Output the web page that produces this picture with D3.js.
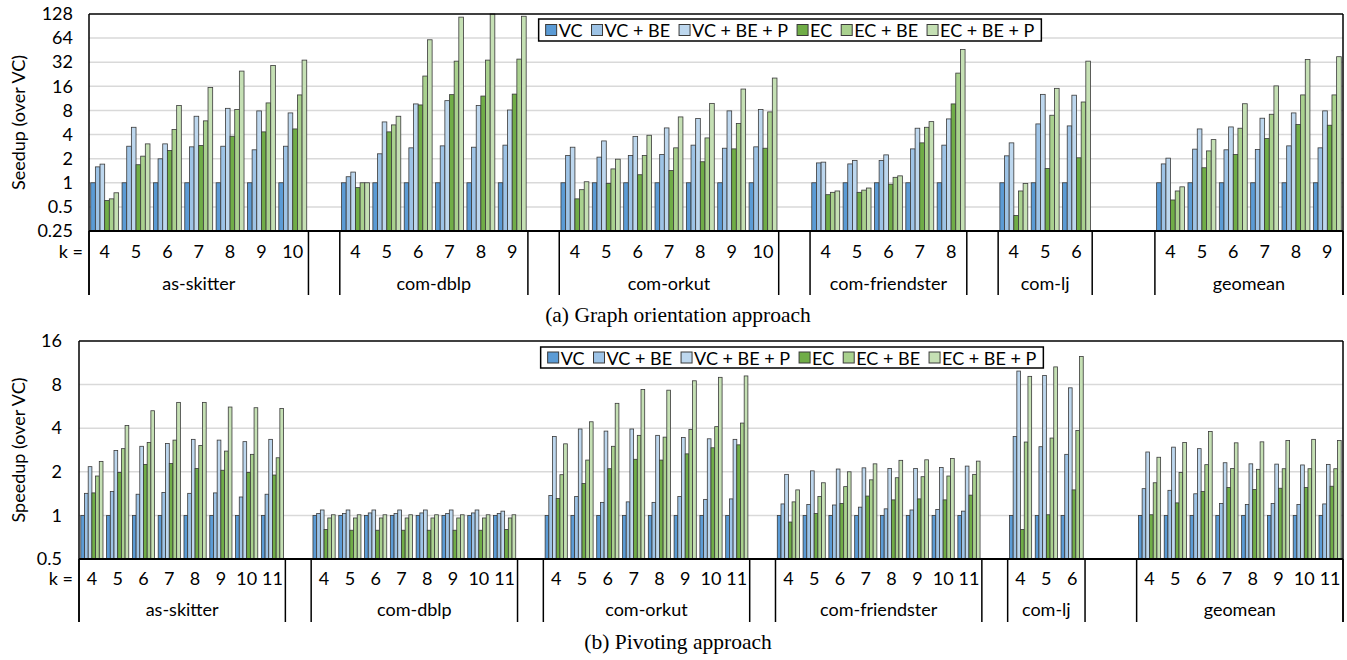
<!DOCTYPE html>
<html>
<head>
<meta charset="utf-8">
<script src="https://cdnjs.cloudflare.com/ajax/libs/d3/7.8.5/d3.min.js"></script>
<style>
  body { margin: 0; background: #fff; }
  text { font-family: Lato, "Open Sans", sans-serif; fill: #000; }
</style>
</head>
<body>
<div id="container"></div>
<script>
let w = 1347;
let h = 660;

// SERIES
let series = ["VC", "VC + BE", "VC + BE + P", "EC", "EC + BE", "EC + BE + P"];
let colors = ["#5b9bd5", "#9dc3e6", "#bdd7ee", "#70ad47", "#a9d18e", "#c5e0b4"];
let groups = ["as-skitter", "com-dblp", "com-orkut", "com-friendster", "com-lj", "geomean"];

// (a) GRAPH ORIENTATION — values in group order, one row per group
let kA = [[4,5,6,7,8,9,10], [4,5,6,7,8,9], [4,5,6,7,8,9,10], [4,5,6,7,8], [4,5,6], [4,5,6,7,8,9]];
let ticksA = [0.25, 0.5, 1, 2, 4, 8, 16, 32, 64, 128];
let aVC = [
  1,1,1,1,1,1,1,
  1,1,1,1,1,1,
  1,1,1,1,1,1,1,
  1,1,1,1,1,
  1,1,1,
  1,1,1,1,1,1];
let aVCBE = [
  1.58,2.86,1.99,2.81,2.86,2.58,2.86,
  1.19,2.30,2.73,2.89,2.78,2.95,
  2.19,2.09,2.19,2.25,2.95,2.70,2.81,
  1.77,1.72,1.90,2.65,2.95,
  2.17,5.43,5.13,
  1.72,2.63,2.58,2.60,2.89,2.73];
let aVCBEP = [
  1.71,4.93,3.06,6.77,8.5,7.89,7.45,
  1.36,5.75,9.65,10.6,9.2,8.1,
  2.78,3.33,3.78,4.84,6.33,7.9,8.2,
  1.81,1.90,2.23,4.8,6.27,
  3.15,12.7,12.4,
  2.03,4.7,4.98,6.4,7.45,7.9];
let aEC = [
  0.60,1.68,2.53,2.92,3.81,4.32,4.7,
  0.87,4.32,9.37,12.6,12.1,12.8,
  0.63,0.98,1.26,1.42,1.83,2.65,2.7,
  0.71,0.76,0.96,3.15,9.65,
  0.39,1.51,2.05,
  0.61,1.54,2.25,3.57,5.33,5.23];
let aECBE = [
  0.63,2.15,4.62,5.93,8.2,9.93,12.5,
  1.0,5.28,21.5,33,34,35,
  0.82,1.49,2.19,2.73,3.63,5.49,7.67,
  0.76,0.81,1.17,4.93,23.4,
  0.79,6.97,10.2,
  0.79,2.5,4.8,7.17,12.5,12.5];
let aECBEP = [
  0.75,3.06,9.2,15.5,24.8,29.2,34,
  1.0,6.77,61,117,135,120,
  1.03,1.97,3.92,6.64,9.8,14.8,20.3,
  0.79,0.86,1.22,5.8,46.2,
  0.98,15.1,33,
  0.89,3.46,9.7,16.2,34.7,37.5];

// (b) PIVOTING
let kB = [[4,5,6,7,8,9,10,11], [4,5,6,7,8,9,10,11], [4,5,6,7,8,9,10,11], [4,5,6,7,8,9,10,11], [4,5,6], [4,5,6,7,8,9,10,11]];
let ticksB = [0.5, 1, 2, 4, 8, 16];
let bVC = [
  1,1,1,1,1,1,1,1,
  1,1,1,1,1,1,1,1,
  1,1,1,1,1,1,1,1,
  1,1,1,1,1,1,1,1,
  1,1,1,
  1,1,1,1,1,1,1,1];
let bVCBE = [
  1.42,1.46,1.40,1.44,1.42,1.43,1.34,1.40,
  1.03,1.03,1.04,1.03,1.04,1.03,1.04,1.03,
  1.37,1.35,1.23,1.24,1.23,1.35,1.29,1.30,
  1.20,1.19,1.18,1.14,1.11,1.09,1.10,1.07,
  3.51,2.98,2.64,
  1.53,1.49,1.41,1.21,1.19,1.21,1.19,1.20];
let bVCBEP = [
  2.17,2.81,3.0,3.14,3.35,3.31,3.23,3.35,
  1.09,1.09,1.09,1.09,1.09,1.09,1.09,1.07,
  3.51,3.95,3.82,3.95,3.57,3.45,3.38,3.35,
  1.92,2.03,2.09,2.13,2.11,2.11,2.14,2.19,
  9.92,9.26,7.6,
  2.74,2.96,2.89,2.31,2.27,2.26,2.23,2.25];
let bEC = [
  1.43,1.98,2.25,2.28,2.11,2.05,1.98,1.90,
  0.80,0.79,0.79,0.79,0.79,0.79,0.79,0.80,
  1.31,1.66,2.10,2.44,2.41,2.66,2.93,3.07,
  0.90,1.03,1.21,1.36,1.28,1.30,1.28,1.38,
  0.80,1.01,1.50,
  1.01,1.22,1.46,1.56,1.51,1.54,1.56,1.59];
let bECBE = [
  1.87,2.89,3.19,3.31,3.04,2.78,2.64,2.50,
  0.96,0.96,0.96,0.96,0.96,0.96,0.96,0.96,
  1.91,2.41,3.0,3.57,3.47,3.92,4.1,4.34,
  1.24,1.35,1.58,1.76,1.82,1.85,1.87,1.92,
  3.21,3.42,3.86,
  1.68,1.98,2.24,2.11,2.08,2.1,2.1,2.1];
let bECBEP = [
  2.36,4.18,5.28,6.03,6.03,5.6,5.54,5.48,
  1.01,1.01,1.01,1.01,1.01,1.01,1.01,1.01,
  3.12,4.43,5.94,7.4,7.32,8.5,8.98,9.18,
  1.50,1.68,2.0,2.27,2.4,2.42,2.47,2.37,
  9.12,10.6,12.5,
  2.52,3.19,3.8,3.17,3.22,3.29,3.35,3.29];

// empty category slots between groups
let gapSlots = [1, 1, 1, 1, 2];

let viz = d3.select("#container").append("svg")
    .attr("width", w)
    .attr("height", h)
    .style("display", "block");

function drawPanel(p) {
  // build slots (with blank ones between groups) and bar records
  let slots = [];
  let bars = [];
  let idx = 0;
  groups.forEach(function(g, gi) {
    if (gi > 0) {
      for (let j = 0; j < gapSlots[gi - 1]; j++) slots.push("gap" + gi + "_" + j);
    }
    p.ks[gi].forEach(function(k) {
      let id = g + "|" + k;
      slots.push(id);
      p.values.forEach(function(arr, si) {
        bars.push({slot: id, s: series[si], si: si, v: arr[idx]});
      });
      idx++;
    });
  });

  let xScale = d3.scaleBand().domain(slots).range([p.left, p.right])
      .paddingInner(p.pad).paddingOuter(p.pad / 2);
  let xSeries = d3.scaleBand().domain(series).range([0, xScale.bandwidth()]);
  let yScale = d3.scaleLog().base(2).domain(p.domain).range([p.bottom, p.top]).clamp(true);
  let half = xScale.step() * p.pad / 2;

  let g = viz.append("g");

  // gridlines
  g.selectAll(".grid").data(p.ticks.slice(1, -1)).enter()
    .append("line")
      .attr("x1", p.left).attr("x2", p.right)
      .attr("y1", d => yScale(d)).attr("y2", d => yScale(d))
      .attr("stroke", "#d9d9d9")
      .attr("stroke-width", 1.5);

  // bars
  g.selectAll(".bar").data(bars).enter()
    .append("rect")
      .attr("x", d => xScale(d.slot) + xSeries(d.s))
      .attr("y", d => yScale(d.v))
      .attr("width", xSeries.bandwidth())
      .attr("height", d => p.bottom - yScale(d.v))
      .attr("fill", d => colors[d.si])
      .attr("stroke", "#3a3a3a")
      .attr("stroke-width", 0.8);

  // frame
  g.append("line").attr("x1", p.left).attr("x2", p.right).attr("y1", p.top).attr("y2", p.top)
    .attr("stroke", "#000").attr("stroke-width", 1.5);
  g.append("line").attr("x1", p.left).attr("x2", p.right).attr("y1", p.bottom).attr("y2", p.bottom)
    .attr("stroke", "#000").attr("stroke-width", 2);
  [p.left, p.right].forEach(function(x) {
    g.append("line").attr("x1", x).attr("x2", x).attr("y1", p.top).attr("y2", p.divBottom)
      .attr("stroke", "#000").attr("stroke-width", 1.5);
  });

  // group dividers, k labels, group names
  groups.forEach(function(gname, gi) {
    let ids = p.ks[gi].map(k => gname + "|" + k);
    let x0 = xScale(ids[0]) - half;
    let x1 = xScale(ids[ids.length - 1]) + xScale.bandwidth() + half;
    [x0, x1].forEach(function(x) {
      g.append("line").attr("x1", x).attr("x2", x).attr("y1", p.bottom).attr("y2", p.divBottom)
        .attr("stroke", "#000").attr("stroke-width", 1.5);
    });
    g.append("text")
      .attr("x", (x0 + x1) / 2)
      .attr("y", p.nameY)
      .attr("text-anchor", "middle")
      .attr("dominant-baseline", "central")
      .style("font-size", "18px")
      .text(gname);
    g.selectAll(".k" + gi).data(p.ks[gi]).enter()
      .append("text")
        .attr("x", k => xScale(gname + "|" + k) + xScale.bandwidth() / 2)
        .attr("y", p.kY)
        .attr("text-anchor", "middle")
        .attr("dominant-baseline", "central")
        .style("font-size", "18px")
        .text(k => k);
  });

  g.append("text")
    .attr("x", p.left - 6)
    .attr("y", p.kY)
    .attr("text-anchor", "end")
    .attr("dominant-baseline", "central")
    .style("font-size", "18px")
    .text("k =");

  // y axis labels
  let yAxis = d3.axisLeft(yScale).tickValues(p.ticks).tickFormat(d => d).tickSize(0).tickPadding(p.tickPad);
  let ax = g.append("g").attr("transform", "translate(" + p.left + ",0)").call(yAxis);
  ax.select(".domain").remove();
  ax.selectAll("text").style("font-size", "18px").style("font-family", "Lato, sans-serif").attr("fill", "#000");

  g.append("text")
    .attr("transform", "translate(" + p.titleX + "," + ((p.top + p.bottom) / 2) + ") rotate(-90)")
    .attr("text-anchor", "middle")
    .attr("dominant-baseline", "central")
    .style("font-size", "18px")
    .text(p.title);

  // legend
  let lg = g.append("g");
  let box = lg.append("rect");
  let cursor = 0;
  series.forEach(function(s, i) {
    lg.append("rect")
      .attr("x", cursor).attr("y", p.legendY + p.legendH / 2 - 5.5)
      .attr("width", 11).attr("height", 11)
      .attr("fill", colors[i]).attr("stroke", "#3a3a3a").attr("stroke-width", 1);
    let t = lg.append("text")
      .attr("x", cursor + 13)
      .attr("y", p.legendY + p.legendH / 2)
      .attr("dominant-baseline", "central")
      .style("font-size", "18px")
      .text(s);
    cursor += 13 + t.node().getComputedTextLength() + 9;
  });
  let lw = cursor - 9 + 14;
  box.attr("x", -7).attr("y", p.legendY).attr("width", lw).attr("height", p.legendH)
    .attr("fill", "#fff").attr("stroke", "#000").attr("stroke-width", 1.5);
  lg.attr("transform", "translate(" + (p.legendCx - lw / 2 + 7) + ",0)");

  // caption
  viz.append("text")
    .attr("x", p.captionX)
    .attr("y", p.captionY)
    .attr("text-anchor", "middle")
    .style("font-family", "'Liberation Serif', 'DejaVu Serif', serif")
    .style("font-size", "21.5px")
    .text(p.caption);
}

drawPanel({
  ks: kA, values: [aVC, aVCBE, aVCBEP, aEC, aECBE, aECBEP],
  ticks: ticksA, domain: [0.25, 128],
  left: 89, right: 1343, top: 14, bottom: 231, pad: 0.11,
  kY: 251, nameY: 283, divBottom: 295, tickPad: 16, titleX: 18,
  title: "Seedup (over VC)",
  legendCx: 790, legendY: 19, legendH: 22,
  caption: "(a) Graph orientation approach", captionX: 678, captionY: 322
});

drawPanel({
  ks: kB, values: [bVC, bVCBE, bVCBEP, bEC, bECBE, bECBEP],
  ticks: ticksB, domain: [0.5, 16],
  left: 79, right: 1343, top: 341, bottom: 559, pad: 0.14,
  kY: 578, nameY: 609, divBottom: 622, tickPad: 17, titleX: 18,
  title: "Speedup (over VC)",
  legendCx: 792, legendY: 347, legendH: 21,
  caption: "(b) Pivoting approach", captionX: 678, captionY: 649
});
</script>
</body>
</html>
